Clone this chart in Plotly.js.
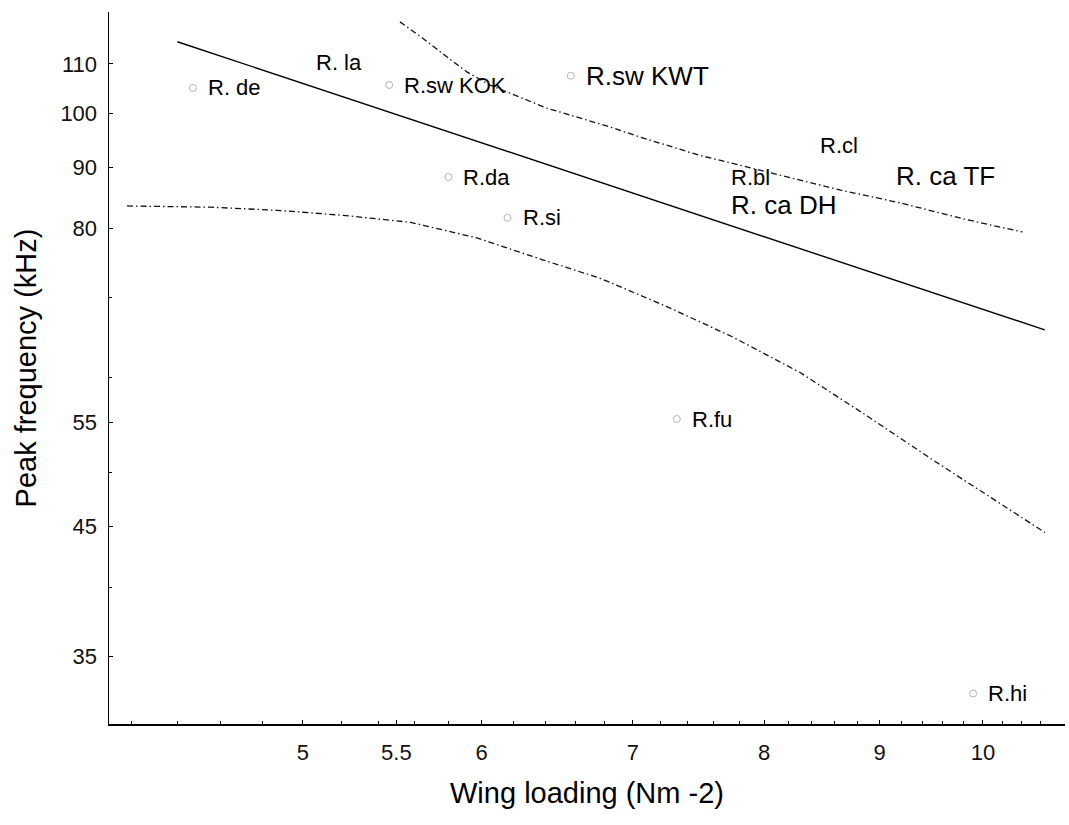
<!DOCTYPE html>
<html>
<head>
<meta charset="utf-8">
<script src="https://cdn.plot.ly/plotly-3.0.1.min.js"></script>
<style>
  html, body { margin: 0; padding: 0; background: #fff; }
  #chart { width: 1069px; height: 825px; }
</style>
</head>
<body>
<div id="chart"></div>
<script>
// ---- Data ----
const speciesLabels = ['R. de', 'R. la', 'R.sw KOK', 'R.sw KWT', 'R.da', 'R.si', 'R.fu', 'R.hi', 'R.cl', 'R.bl', 'R. ca DH', 'R. ca TF'];
const wingLoading   = [4.47, 4.99, 5.46, 6.57, 5.80, 6.16, 7.32, 9.90, 8.34, 7.62, 7.62, 9.01];
const peakFrequency = [105.0, 110.2, 105.6, 107.5, 88.4, 81.7, 55.4, 32.6, 94.0, 88.4, 83.8, 88.6];

// regression line (end points)
const fitX = [4.40, 10.65];
const fitY = [114.8, 65.8];

// upper confidence band
const upperX = [5.52, 5.65, 5.79, 5.91, 6.05, 6.20, 6.41, 6.63, 6.86, 7.05, 7.49, 7.89, 8.65, 9.19, 9.84, 10.41];
const upperY = [119.3, 115.6, 111.5, 108.3, 105.6, 103.6, 101.0, 99.1, 97.2, 95.5, 92.2, 90.0, 86.2, 84.1, 81.4, 79.5];

// lower confidence band
const lowerX = [4.18, 4.55, 4.87, 5.21, 5.58, 5.97, 6.39, 6.77, 7.25, 7.75, 8.30, 8.89, 9.50, 10.18, 10.65];
const lowerY = [83.6, 83.4, 82.9, 82.1, 81.0, 78.6, 75.3, 72.7, 68.8, 64.9, 60.6, 55.7, 51.2, 47.0, 44.5];

// axis ticks
const xTickVals = [5, 5.5, 6, 7, 8, 9, 10];
const xTickText = ['5', '5.5', '6', '7', '8', '9', '10'];
const yTickVals = [35, 45, 55, 80, 90, 100, 110];
const yTickText = ['35', '45', '55', '80', '90', '100', '110'];
const xMinorTicks = [4.2, 4.4, 4.6, 4.8, 5.2, 5.4, 5.6, 5.8, 6.2, 6.4, 6.6, 6.8, 7.2, 7.4, 7.6, 7.8, 8.2, 8.4, 8.6, 8.8, 9.2, 9.4, 9.6, 9.8, 10.2, 10.4, 10.6];
const yMinorTicks = [40, 50, 60, 70];

// ---- Styles ----
const markerShown = [true, false, true, true, true, true, true, true, false, false, false, false];
const labelSize   = [22, 22, 22, 26, 22, 22, 22, 22, 22, 22, 26, 26];
const FONT = 'Liberation Sans, Arial, Helvetica, sans-serif';
const dashDot = '6px,3px,1.5px,3px';

const traces = [
  {
    x: fitX, y: fitY, type: 'scatter', mode: 'lines',
    line: { color: '#000', width: 1.4 }, hoverinfo: 'skip', showlegend: false
  },
  {
    x: upperX, y: upperY, type: 'scatter', mode: 'lines', line: { color: '#111', width: 1.3, dash: dashDot },
    hoverinfo: 'skip', showlegend: false
  },
  {
    x: lowerX, y: lowerY, type: 'scatter', mode: 'lines', line: { color: '#111', width: 1.3, dash: dashDot },
    hoverinfo: 'skip', showlegend: false
  },
  {
    x: wingLoading, y: peakFrequency, text: speciesLabels, type: 'scatter', mode: 'markers',
    marker: {
      symbol: 'circle-open', size: 7,
      color: markerShown.map(v => v ? '#b4b4b4' : 'rgba(0,0,0,0)'),
      line: { width: 1 }
    },
    showlegend: false
  }
];

const annotations = speciesLabels.map((t, i) => ({
  x: Math.log10(wingLoading[i]), y: Math.log10(peakFrequency[i]),
  xref: 'x', yref: 'y', text: t, showarrow: false,
  xanchor: 'left', yanchor: 'middle', xshift: 14, borderpad: 0,
  font: { family: FONT, size: labelSize[i], color: '#000' }
}));

const layout = {
  width: 1069, height: 825,
  margin: { l: 109, r: 4, t: 12, b: 101 },
  paper_bgcolor: '#fff', plot_bgcolor: '#fff',
  showlegend: false,
  font: { family: FONT, color: '#000' },
  xaxis: {
    type: 'log', range: [0.6132, 1.0363],
    tickmode: 'array', tickvals: xTickVals, ticktext: xTickText,
    ticks: 'inside', ticklen: 4, tickwidth: 1, tickcolor: '#000',
    showline: true, linecolor: '#000', linewidth: 1.5,
    showgrid: false, zeroline: false,
    tickfont: { family: FONT, size: 22, color: '#111' },
    ticklabelstandoff: 8,
    minor: { tickvals: xMinorTicks, ticks: 'inside', ticklen: 3, tickcolor: '#000', showgrid: false },
    title: { text: 'Wing loading (Nm -2)', font: { family: FONT, size: 29, color: '#000' }, standoff: 19 }
  },
  yaxis: {
    type: 'log', range: [1.48767, 2.0849],
    tickmode: 'array', tickvals: yTickVals, ticktext: yTickText,
    ticks: 'inside', ticklen: 4, tickwidth: 1, tickcolor: '#000',
    showline: true, linecolor: '#000', linewidth: 1.5,
    showgrid: false, zeroline: false,
    tickfont: { family: FONT, size: 22, color: '#111' },
    ticklabelstandoff: 6,
    minor: { tickvals: yMinorTicks, ticks: 'inside', ticklen: 3, tickcolor: '#000', showgrid: false },
    title: { text: 'Peak frequency (kHz)', font: { family: FONT, size: 29, color: '#000' }, standoff: 15 }
  },
  annotations: annotations
};

Plotly.newPlot('chart', traces, layout, { displayModeBar: false, staticPlot: true });
</script>
</body>
</html>
